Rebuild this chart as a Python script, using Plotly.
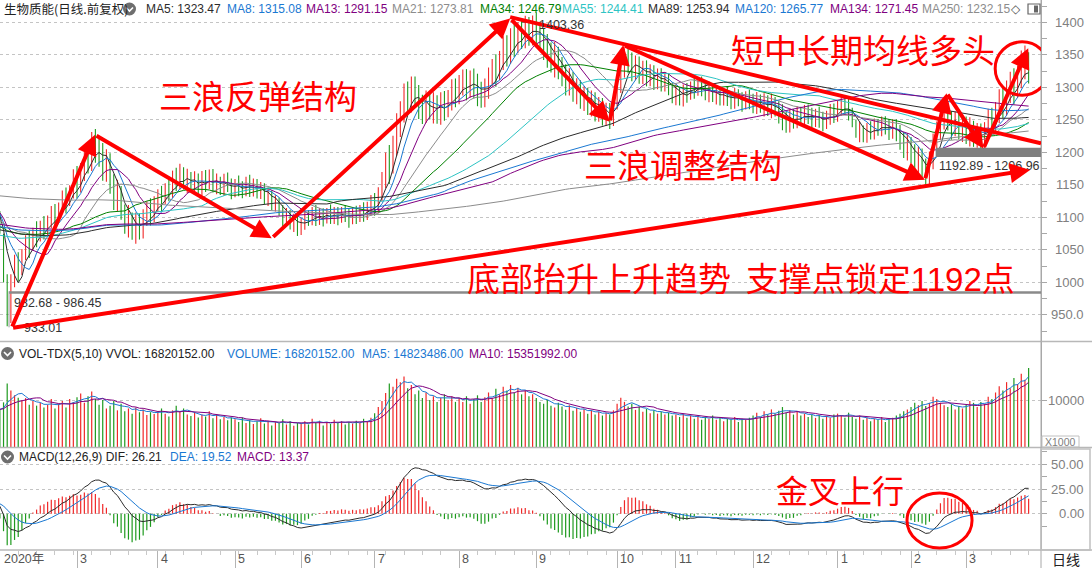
import numpy as np
import pandas as pd
import plotly.graph_objects as go

# ---------------- data ----------------
close = [
    1075, 1000, 945, 1005, 1030, 1018, 1045, 1062, 1055, 1078, 1070,
    1088, 1080, 1096, 1105, 1098, 1118, 1130, 1122, 1145, 1158, 1150, 1172,
    1195, 1188, 1215, 1205, 1196, 1175, 1185, 1150,
    1128, 1140, 1105, 1090, 1098, 1075, 1092, 1080, 1100, 1112, 1105, 1120, 1132, 1125,
    1148, 1140, 1162, 1155, 1170, 1150, 1162, 1148, 1158, 1145, 1160, 1152, 1165, 1148, 1155, 1142, 1158, 1150,
    1138, 1152, 1145, 1140, 1155, 1142, 1150, 1138, 1145, 1128, 1135, 1118, 1125, 1108, 1098, 1105, 1088, 1095, 1082, 1090,
    1102, 1096, 1108, 1098, 1105, 1095, 1110, 1100, 1106, 1098, 1110, 1102, 1096, 1108, 1100, 1112, 1105, 1115,
    1122, 1118, 1135, 1160, 1185, 1178, 1215, 1240, 1262, 1290, 1278, 1300, 1285, 1270,
    1262, 1278, 1265, 1272, 1260, 1275, 1268, 1282, 1295, 1288, 1305, 1310, 1298, 1312, 1300, 1292, 1285, 1298,
    1315, 1330, 1322, 1345, 1360, 1352, 1375, 1368, 1385, 1378, 1392, 1380, 1395, 1385, 1372,
    1360, 1352, 1340, 1345, 1330, 1318, 1305, 1312, 1290, 1298, 1280, 1285, 1272, 1278, 1262, 1270, 1255, 1262, 1250,
    1275, 1305, 1330, 1345, 1338, 1325, 1335, 1318, 1328, 1315, 1322, 1308, 1318, 1305, 1312, 1298,
    1285, 1292, 1280, 1295, 1288, 1302, 1295, 1305, 1298, 1290, 1296, 1285, 1292, 1280, 1290, 1283, 1278, 1288, 1280, 1275, 1285, 1278, 1272,
    1280, 1270, 1276, 1268, 1275, 1265, 1258, 1250, 1242, 1255, 1248, 1260, 1252, 1262, 1255, 1248, 1258, 1250, 1245, 1255, 1262, 1258, 1268,
    1275, 1270, 1262, 1245, 1228, 1235, 1222, 1238, 1230, 1242, 1235, 1245, 1238, 1232, 1240, 1228, 1218,
    1205, 1212, 1195, 1185, 1192, 1172, 1165, 1188, 1215, 1232, 1250, 1262, 1245, 1238, 1250, 1232, 1240, 1228, 1235, 1222, 1230, 1215,
    1238, 1250, 1245, 1262, 1280, 1272, 1295, 1305, 1298, 1320, 1335, 1342, 1318,
]

# daily high-low range (points), estimated from the candle lengths
day_range = [
    30, 45, 80, 75, 50, 45, 40, 38, 42, 35, 40, 32, 36, 30, 34, 38, 30, 35, 40, 32, 45,
    50, 45, 55, 48, 60, 52, 45, 58, 50, 62, 55, 48, 52, 45, 50, 42, 48, 40, 45, 38, 42, 40,
    35, 40, 32, 38, 42, 36, 40, 34, 38, 30, 36, 32, 38, 34, 30, 36, 32, 28, 34, 30, 32,
    28, 32, 26, 30, 34, 28, 30, 26, 32, 28, 30, 25, 28, 32, 26, 30, 28, 34,
    26, 30, 24, 28, 32, 26, 28, 24, 30, 26, 28, 24, 26, 30, 25, 28, 26, 30, 28, 32,
    35, 40, 45, 55, 60, 58, 65, 55, 60, 50, 55, 48, 52, 45, 50, 42, 48, 44, 50, 46, 42, 48, 44,
    45, 40, 48, 42, 46, 50, 40, 44, 48, 42, 50, 45, 52, 48, 55, 50, 48, 45, 50, 44, 46,
    50, 45, 48, 52, 46, 55, 50, 45, 48, 42, 46, 40, 44, 38, 42, 40, 45, 38, 42, 36, 40, 44,
    48, 52, 45, 40, 44, 38, 42, 36, 40, 34, 38, 32, 36, 30, 34, 32,
    32, 28, 34, 30, 28, 32, 26, 30, 28, 32, 26, 30, 28, 26, 30, 28, 32, 26, 30, 28, 30,
    30, 34, 28, 36, 32, 38, 30, 34, 40, 32, 36, 30, 34, 28, 32, 30, 34, 28, 32, 30, 28, 32, 30,
    32, 30, 28, 34, 30, 28, 32, 26, 30, 28, 32, 26, 30, 28, 32, 30, 34, 38, 40, 42,
    40, 45, 42, 48, 44, 50, 55, 48, 45, 42, 40, 44, 38, 42, 40,
    42, 45, 40, 38, 44, 40, 46, 42, 48, 52, 46, 54, 48, 56, 50, 58, 52, 48,
]

# volume in thousands of shares (axis shows X1000)
volume = [
    8000, 9500, 13500, 12000, 11000, 10500, 10000, 10400, 9000, 9800, 8800, 9400, 8400, 9000, 10200, 8200, 9200, 9800, 8400, 10200, 9600,
    10600, 11400, 9400, 10800, 11800, 10200, 9000, 10000, 8200, 8800, 9800, 7800, 9200, 7600, 8200, 7100, 8400, 7400, 8000, 6800, 7400, 7000,
    7600, 8200, 7100, 6500, 7800, 8800, 7600, 8200, 6900, 6600, 7300, 6300, 6900, 6500, 7600, 6100, 6800, 5900, 6400, 5700, 6300,
    5900, 5300, 6300, 5100, 5700, 4900, 5500, 6100, 5000, 5600, 4600, 5300, 5100, 5900, 4800, 5500, 4500, 5100,
    5000, 5500, 4800, 6000, 5100, 5600, 4600, 5300, 4900, 5800, 5100, 5500, 4800, 5300, 5000, 5600, 5100, 6000, 5500, 6200,
    7200, 8500, 9800, 11500, 13500, 12800, 14500, 13800, 15000, 12500, 13200, 11200, 12000, 10400, 11600, 10000, 10800, 9600, 10400, 11200, 10000, 10800, 9600,
    10400, 9600, 10800, 9200, 10200, 11000, 9600, 10600, 11600, 10400, 12400, 11200, 12800, 12000, 13200, 11600, 12600, 11200, 12000, 10800, 11200,
    10400, 9600, 9200, 10000, 8800, 8400, 9400, 8600, 7900, 8900, 7700, 8300, 7500, 8100, 7100, 7800, 6900, 7500, 6700, 7300, 6900, 7800,
    9200, 10500, 9600, 8600, 9200, 7900, 8600, 7500, 8100, 7200, 7800, 7100, 7500, 6900, 7300, 6700,
    6900, 6400, 7100, 6200, 6700, 6000, 6600, 5800, 6400, 6000, 6700, 5800, 6200, 5500, 6000, 5800, 6400, 5300, 6000, 5800, 6200,
    6700, 7300, 6200, 7600, 6900, 8000, 7100, 7700, 8500, 7300, 7800, 6900, 7600, 6700, 7100, 6400, 6900, 6200, 6800, 6000, 6600, 6200, 6900,
    7100, 6700, 6200, 7300, 6400, 6000, 6700, 5800, 6200, 5500, 6000, 5800, 6400, 5300, 6000, 6200, 6700, 7100, 7600, 8000,
    8500, 9400, 8900, 9800, 8700, 9400, 10700, 10200, 9400, 8900, 8500, 9100, 8000, 8700, 8200,
    9000, 9800, 9400, 8500, 9600, 9100, 10700, 10200, 11600, 12900, 12000, 13800, 12500, 14700, 13400, 15600, 14300, 16820,
]

# 2019 history (monthly levels estimated from where the long averages start)
hist_levels = [1150, 1170, 1240, 1230, 1160, 1150, 1120, 1095, 1105, 1090, 1050, 1070, 1110]
hist_days = [22, 15, 21, 21, 20, 19, 23, 22, 20, 17, 21, 22, 13]
hist_vol_level = 8000

month_idx = [0, 21, 43, 64, 82, 102, 125, 146, 168, 184, 205, 228, 248, 263]
month_lbl = ["2020年", "3", "4", "5", "6", "7", "8", "9", "10", "11", "12", "1", "2", "3"]

ma_periods = [5, 8, 13, 21, 34, 55, 89, 120, 134, 250]
ma_colors = ["#2b2b2b", "#1a78d2", "#800080", "#8c8c8c", "#008000",
             "#2ec4c4", "#2b2b2b", "#1a78d2", "#800080", "#8c8c8c"]
ma_last = [1323.47, 1315.08, 1291.15, 1273.81, 1246.79, 1244.41, 1253.94, 1265.77, 1271.45, 1232.15]

price_ticks = [950, 1000, 1050, 1100, 1150, 1200, 1250, 1300, 1350, 1400]
vol_ticks = [10000]
macd_ticks = [0, 25, 50]

low_gap = [982.68, 986.45]
high_gap = [1192.89, 1206.96]
period_low = 933.01
period_high = 1403.36
vol_last = [16820152.00, 16820152.00, 14823486.00, 15351992.00]
macd_last = [26.21, 19.52, 13.37]

# hand-drawn red marks (bar index, price)
wave_pts = [(3.2, 930), (25.9, 1227), (74.0, 1068), (138.9, 1406)]
adjust_pts = [(138.9, 1406), (166.0, 1247), (169.7, 1365), (251.8, 1158),
              (257.7, 1291), (267.7, 1206), (279.9, 1360)]
support_line = [(3.2, 930), (280.4, 1173)]
top_line = [(138.9, 1408), (283.37, 1214)]

# ---------------- computation ----------------
RED = "#f02828"
GRN = "#1e9a1e"
DRAW = "#ff0000"

n = len(close)
x = np.arange(n)
hist = np.repeat(hist_levels, hist_days).astype(float)
nh = len(hist)
s = pd.Series(np.concatenate([hist, np.array(close, float)]))
ma = {p: s.rolling(p).mean().to_numpy()[nh:] for p in ma_periods}
c = np.array(close, float)
o = np.concatenate([[hist[-1]], c[:-1]])
rng = np.maximum(np.array(day_range[:n], float), np.abs(c - o))
mid = (o + c) / 2
hi = mid + rng / 2
lo = mid - rng / 2
up = c >= o

ema12 = s.ewm(span=12, adjust=False).mean()
ema26 = s.ewm(span=26, adjust=False).mean()
dif_full = (ema12 - ema26)
dea_full = dif_full.ewm(span=9, adjust=False).mean()
dif = dif_full.to_numpy()[nh:]
dea = dea_full.to_numpy()[nh:]
macd = 2 * (dif - dea)

vol = np.array(volume, float)
vs = pd.Series(np.concatenate([np.full(nh, hist_vol_level, float), vol]))
vma5 = vs.rolling(5).mean().to_numpy()[nh:]
vma10 = vs.rolling(10).mean().to_numpy()[nh:]


def segs(xs, y0, y1):
    X, Y = [], []
    for a, b, cc in zip(xs, y0, y1):
        X += [a, a, None]
        Y += [b, cc, None]
    return X, Y


# ---------------- geometry helpers (pixels -> paper) ----------------
PW, PH = 1041.0, 550.0


def px(v):
    return v / PW


def py(v):
    return (PH - v) / PH


fig = go.Figure()

# candles
for mask, col in ((up, RED), (~up, GRN)):
    X, Y = segs(x[mask], lo[mask], hi[mask])
    fig.add_trace(go.Scatter(x=X, y=Y, mode="lines", line=dict(color=col, width=1.1),
                             hoverinfo="skip", xaxis="x", yaxis="y"))
# moving averages
for p, col in zip(ma_periods, ma_colors):
    fig.add_trace(go.Scatter(x=x, y=ma[p], mode="lines", line=dict(color=col, width=1),
                             hoverinfo="skip", xaxis="x", yaxis="y"))

# volume
for mask, col in ((up, RED), (~up, GRN)):
    X, Y = segs(x[mask], np.zeros(mask.sum()), vol[mask])
    fig.add_trace(go.Scatter(x=X, y=Y, mode="lines", line=dict(color=col, width=1.2),
                             hoverinfo="skip", xaxis="x", yaxis="y2"))
fig.add_trace(go.Scatter(x=x, y=vma5, mode="lines", line=dict(color="#1a78d2", width=1),
                         hoverinfo="skip", xaxis="x", yaxis="y2"))
fig.add_trace(go.Scatter(x=x, y=vma10, mode="lines", line=dict(color="#800080", width=1),
                         hoverinfo="skip", xaxis="x", yaxis="y2"))

# MACD
pos = macd >= 0
for mask, col in ((pos, RED), (~pos, GRN)):
    X, Y = segs(x[mask], np.zeros(mask.sum()), macd[mask])
    fig.add_trace(go.Scatter(x=X, y=Y, mode="lines", line=dict(color=col, width=1.2),
                             hoverinfo="skip", xaxis="x", yaxis="y3"))
fig.add_trace(go.Scatter(x=x, y=dif, mode="lines", line=dict(color="#2b2b2b", width=1),
                         hoverinfo="skip", xaxis="x", yaxis="y3"))
fig.add_trace(go.Scatter(x=x, y=dea, mode="lines", line=dict(color="#1a78d2", width=1),
                         hoverinfo="skip", xaxis="x", yaxis="y3"))

AXC = "#a8a8a8"
GRIDC = "#c4c4c4"
common_y = dict(side="right", anchor="x", showline=True, linecolor=AXC, linewidth=1,
                ticks="outside", ticklen=5, tickcolor=AXC, showticklabels=False,
                showgrid=True, gridcolor=GRIDC, griddash="dot", gridwidth=1,
                zeroline=False, fixedrange=True, tickmode="array")

fig.update_layout(
    width=1092, height=568,
    margin=dict(l=0, r=51, t=0, b=18, pad=0),
    paper_bgcolor="white", plot_bgcolor="white",
    showlegend=False,
    font=dict(family="Liberation Sans, Noto Sans CJK SC", size=12, color="#333"),
    xaxis=dict(domain=[0, 1], range=[0.04, 283.37], anchor="y3", showline=False,
               ticks="outside", ticklen=18, tickcolor="#b4b4b4", tickmode="array",
               tickvals=month_idx, showticklabels=False, showgrid=False, zeroline=False,
               minor=dict(tickmode="array", tickvals=list(range(0, n, 5)), ticks="outside",
                          ticklen=4, tickcolor="#c8c8c8", showgrid=False),
               fixedrange=True),
    yaxis=dict(domain=[py(341), 1], range=[910.0, 1434.3], tickvals=price_ticks,
               minor=dict(tickmode="array", tickvals=[t - 25 for t in price_ticks] + [1425],
                          ticks="outside", ticklen=5, tickcolor=AXC, showgrid=False),
               **common_y),
    yaxis2=dict(domain=[py(447), py(342)], range=[0, 22340], tickvals=vol_ticks, **common_y),
    yaxis3=dict(domain=[0, py(449)], range=[-36.7, 65.5], tickvals=macd_ticks,
                minor=dict(tickmode="array", tickvals=[-12.5, 12.5, 37.5, 62.5], ticks="outside",
                           ticklen=5, tickcolor=AXC, showgrid=False),
                **common_y),
)

shapes = []
ann = []


def txt(text, x, y, xref="paper", yref="paper", xanchor="left", size=12, color="#333",
        family=None, **kw):
    f = dict(size=size, color=color)
    if family:
        f["family"] = family
    d = dict(text=text, x=x, y=y, xref=xref, yref=yref, xanchor=xanchor, yanchor="middle",
             showarrow=False, font=f)
    d.update(kw)
    ann.append(d)


# panel separators and frame lines
for yy in (341.5, 447.5, 550):
    shapes.append(dict(type="line", xref="paper", yref="paper", x0=0, x1=px(1092),
                       y0=py(yy), y1=py(yy), line=dict(color="#b8b8b8", width=1.5)))
shapes.append(dict(type="line", xref="paper", yref="paper", x0=1, x1=1, y0=py(568), y1=py(0),
                   line=dict(color=AXC, width=1)))
shapes.append(dict(type="rect", xref="paper", yref="paper", x0=px(1041), x1=px(1090),
                   y0=py(550), y1=py(449), line=dict(color="#c0c0c0", width=1.5)))
shapes.append(dict(type="rect", xref="paper", yref="paper", x0=px(1042), x1=px(1079),
                   y0=py(447), y1=py(436), line=dict(color="#c0c0c0", width=1)))
txt("X1000", px(1060.5), py(441.5), xanchor="center", size=10.5, color="#808080")

# gap bands
shapes.append(dict(type="rect", xref="x", yref="y", x0=2.5, x1=283.37, y0=low_gap[0], y1=low_gap[1],
                   fillcolor="#8a8a8a", line=dict(width=0), layer="above"))
shapes.append(dict(type="line", xref="x", yref="y", x0=2.5, x1=2.5, y0=period_low - 2, y1=low_gap[1],
                   line=dict(color="#9a9a9a", width=1)))
shapes.append(dict(type="rect", xref="x", yref="y", x0=254.7, x1=283.37, y0=high_gap[0], y1=high_gap[1],
                   fillcolor="#7f7f7f", line=dict(width=0), layer="above"))

txt(f"{low_gap[0]:.2f} - {low_gap[1]:.2f}", px(12), py(303), size=12.5)
txt(f"{period_low:.2f}", px(22), py(328), size=12.5)
txt(f"{high_gap[0]:.2f} - {high_gap[1]:.2f}", px(937), py(166), size=12.5)
txt(f"{period_high:.2f}", px(537), py(25), size=12.5)
shapes.append(dict(type="line", xref="paper", yref="paper", x0=px(522), x1=px(535),
                   y0=py(22), y1=py(22), line=dict(color="#333", width=1)))

# y tick labels (right aligned)
for v in price_ticks:
    txt(f"{v:.1f}" if v < 1000 else str(v), px(1086), v, yref="y", xanchor="right",
        size=13, color="#808080")
for v in vol_ticks:
    txt(str(v), px(1086), v, yref="y2", xanchor="right", size=13, color="#808080")
for v in macd_ticks:
    txt(f"{v:.2f}", px(1086), v, yref="y3", xanchor="right", size=13, color="#808080")

# x labels
for t, lb in zip(month_idx, month_lbl):
    txt(lb, max(t, 0.3), py(559), xref="x", size=12.5, color="#555", xshift=1)
txt("日线", px(1066), py(559), xanchor="center", size=14, color="#222", family="Noto Sans CJK SC")


# headers
def icon(cx, cy):
    shapes.append(dict(type="circle", xref="paper", yref="paper", x0=px(cx - 6.5), x1=px(cx + 6.5),
                       y0=py(cy + 6.5), y1=py(cy - 6.5), fillcolor="#6e6e6e", line=dict(width=0)))
    shapes.append(dict(type="path", xref="paper", yref="paper",
                       path=f"M {px(cx-3.5)},{py(cy-1.5)} L {px(cx)},{py(cy+2)} L {px(cx+3.5)},{py(cy-1.5)}",
                       line=dict(color="white", width=1.6)))


txt("生物质能(日线.前复权)", px(2), py(9), size=12.5, color="#222",
    family="Noto Sans CJK SC, Liberation Sans")
icon(129.5, 9)
ma_x = [144, 225, 304, 390, 478, 560, 646, 733, 828, 920]
for p, v, col, xx in zip(ma_periods, ma_last, ma_colors, ma_x):
    txt(f"MA{p}: {v:.2f}", px(xx), py(9), size=12, color=col)
txt("◇", px(1016), py(9), xanchor="center", size=12, color="#555", family="DejaVu Sans")
shapes.append(dict(type="rect", xref="paper", yref="paper", x0=px(1028), x1=px(1040), y0=py(14),
                   y1=py(4), line=dict(color="#666", width=1.2)))
shapes.append(dict(type="rect", xref="paper", yref="paper", x0=px(1034), x1=px(1038), y0=py(12.5),
                   y1=py(5.5), fillcolor="#666", line=dict(width=0)))

icon(7.5, 353.5)
vol_txt = [f"VOL-TDX(5,10) VVOL: {vol_last[0]:.2f}", f"VOLUME: {vol_last[1]:.2f}",
           f"MA5: {vol_last[2]:.2f}", f"MA10: {vol_last[3]:.2f}"]
for t, col, xx in zip(vol_txt, ["#222", "#1a78d2", "#1a78d2", "#800080"], [17, 225, 360, 467]):
    txt(t, px(xx), py(353.5), size=12, color=col)

icon(7.5, 457)
macd_txt = [f"MACD(12,26,9) DIF: {macd_last[0]:.2f}", f"DEA: {macd_last[1]:.2f}",
            f"MACD: {macd_last[2]:.2f}"]
for t, col, xx in zip(macd_txt, ["#222", "#1a78d2", "#800080"], [17, 168, 235]):
    txt(t, px(xx), py(457), size=12, color=col)


# red hand-drawn arrows
def arrow(a, b, yref="y"):
    ann.append(dict(x=b[0], y=b[1], ax=a[0], ay=a[1], xref="x", yref=yref, axref="x", ayref=yref,
                    text="", showarrow=True, arrowhead=2, arrowsize=1.0, arrowwidth=4,
                    arrowcolor=DRAW, standoff=0))


for pts in (wave_pts, adjust_pts):
    for a, b in zip(pts[:-1], pts[1:]):
        arrow(a, b)
arrow(support_line[0], support_line[1])
shapes.append(dict(type="line", xref="x", yref="y", x0=top_line[0][0], y0=top_line[0][1],
                   x1=top_line[1][0], y1=top_line[1][1], line=dict(color=DRAW, width=4), layer="above"))

# red circles
shapes.append(dict(type="circle", xref="x", yref="y", x0=270.9, x1=285.6, y0=1288, y1=1370,
                   line=dict(color=DRAW, width=3), layer="above"))
shapes.append(dict(type="circle", xref="x", yref="y3", x0=246.9, x1=264.6, y0=-34.7, y1=21.0,
                   line=dict(color=DRAW, width=3), layer="above"))

# red commentary text
CJK = "Noto Sans CJK SC"
txt("三浪反弹结构", px(258), py(95), xanchor="center", size=33, color=DRAW, family=CJK)
txt("三浪调整结构", px(683), py(164), xanchor="center", size=33, color=DRAW, family=CJK)
txt("短中长期均线多头", px(863), py(49), xanchor="center", size=33, color=DRAW, family=CJK)
txt("底部抬升上升趋势  支撑点锁定<span style='font-family:Liberation Sans'>1192</span>点",
    px(465), py(277), size=33, color=DRAW, family=CJK)
txt("金叉上行", px(840), py(489), xanchor="center", size=32, color=DRAW, family=CJK)

fig.update_layout(shapes=shapes, annotations=ann)
fig.write_html("out.html")
